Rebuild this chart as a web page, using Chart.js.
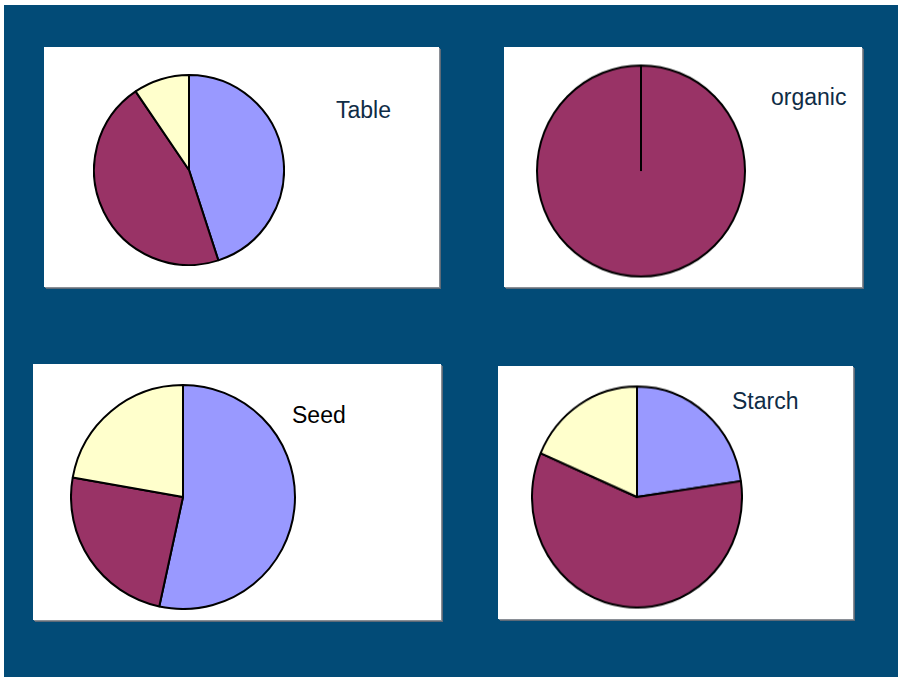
<!DOCTYPE html>
<html>
<head>
<meta charset="utf-8">
<script src="https://cdn.jsdelivr.net/npm/chart.js@4/dist/chart.umd.min.js"></script>
<style>
  body { margin:0; width:898px; height:677px; background:#fff; position:relative; overflow:hidden; font-family:"Liberation Sans", Arial, sans-serif; }
  #bg { position:absolute; left:4px; top:5px; right:0; bottom:0; background:#024b77; }
  .panel { position:absolute; background:#fff; box-shadow:1px 1px 0 #8a8f96, 2px 2px 0 #5d6a78; }
  .title { position:absolute; font-size:23px; color:#0f2c46; line-height:1; }
  canvas { position:absolute; transform-origin:50% 50%; }
</style>
</head>
<body>
<div id="bg"></div>
<div class="panel" style="left:44px;top:47px;width:395px;height:240px"></div>
<div class="panel" style="left:504px;top:47px;width:358px;height:240px"></div>
<div class="panel" style="left:33px;top:364px;width:408px;height:256px"></div>
<div class="panel" style="left:498px;top:366px;width:355px;height:253px"></div>

<div class="title" style="left:336px;top:99px">Table</div>
<div class="title" style="left:771px;top:86px">organic</div>
<div class="title" style="left:292px;top:404px;color:#000">Seed</div>
<div class="title" style="left:732px;top:390px">Starch</div>

<canvas id="c-table"></canvas>
<canvas id="c-organic"></canvas>
<canvas id="c-seed"></canvas>
<canvas id="c-starch"></canvas>

<script>
// slice order: blue, maroon, yellow
const sliceColors = ['#9999ff', '#993366', '#ffffcc'];
const sliceLabels = ['A', 'B', 'C'];

const tableValues   = [45, 45.5, 9.5];
const organicValues = [0, 100, 0];
const seedValues    = [53.4, 24.4, 22.2];
const starchValues  = [22.7, 58.8, 18.5];

// pie centre + radius in page pixels (ry stretches the pie a little vertically)
function makePie(id, values, cx, cy, r, ry) {
  const el = document.getElementById(id);
  const size = 2 * r + 2;
  el.width = size; el.height = size;
  el.style.left = (cx - r - 1) + 'px';
  el.style.top = (cy - r - 1) + 'px';
  if (ry) el.style.transform = 'scaleY(' + (ry / r) + ')';
  new Chart(el, {
    type: 'pie',
    data: { labels: sliceLabels, datasets: [{ data: values, backgroundColor: sliceColors, borderColor: '#000', borderWidth: 2 }] },
    options: {
      responsive: false, animation: false, events: [],
      layout: { padding: 0 },
      plugins: { legend: { display: false }, tooltip: { enabled: false } }
    }
  });
}

makePie('c-table', tableValues, 189, 170, 95);
makePie('c-organic', organicValues, 641, 170.5, 104, 105.5);
makePie('c-seed', seedValues, 183, 497, 112);
makePie('c-starch', starchValues, 637, 496.5, 105, 110.5);
</script>
</body>
</html>
